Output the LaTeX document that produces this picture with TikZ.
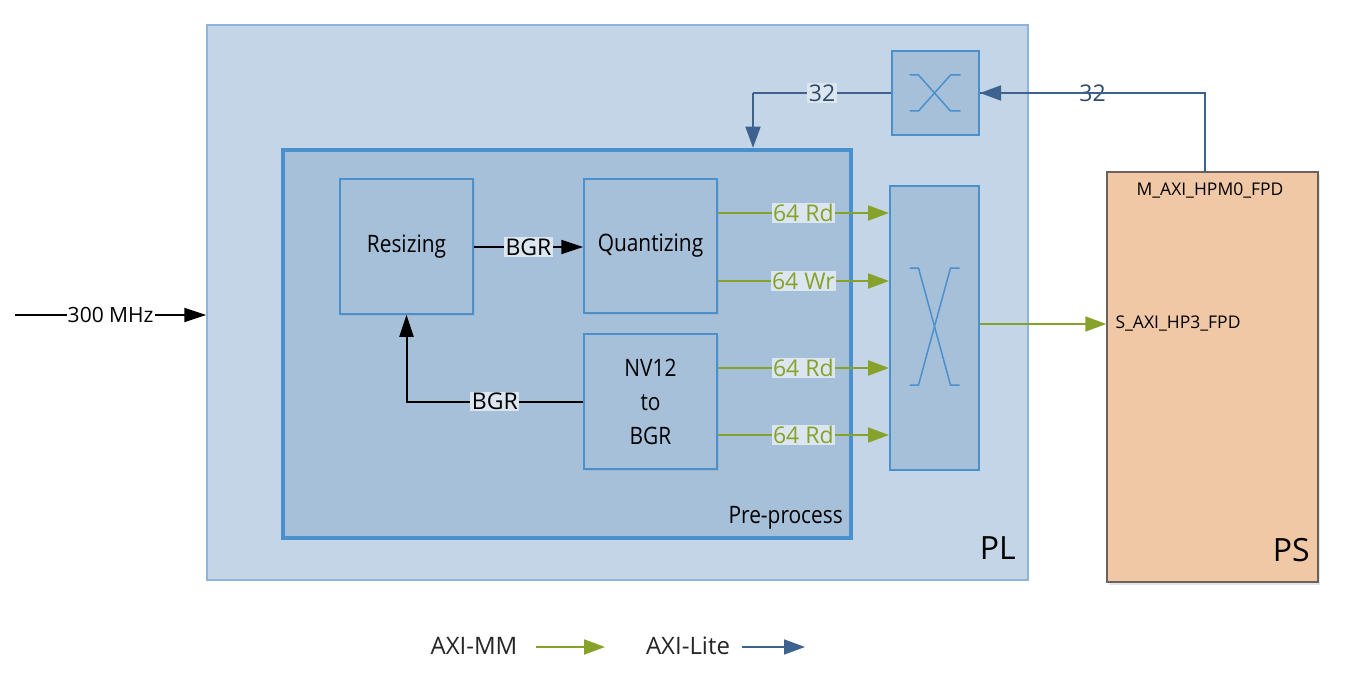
\documentclass[tikz,border=0pt]{standalone}
\usepackage{fontspec}
\setmainfont{Open Sans}
\newfontfamily\condfont{Open Sans}[FakeStretch=0.87]
\usetikzlibrary{arrows.meta,shadows}
\definecolor{plfill}{HTML}{C4D5E7}
\definecolor{plborder}{HTML}{8FB3D9}
\definecolor{prefill}{HTML}{A6C0DA}
\definecolor{preborder}{HTML}{4A90CD}
\definecolor{mmgreen}{HTML}{86A22A}
\definecolor{liteblue}{HTML}{3D6290}
\definecolor{litetext}{HTML}{2F4A6B}
\definecolor{psfill}{HTML}{F1C8A6}
\definecolor{psborder}{HTML}{6B625C}
\definecolor{labelbg}{HTML}{DCE6F0}
\begin{document}
\begin{tikzpicture}[x=1pt,y=-1pt,
  txt/.style={font=\condfont\fontsize{24}{34}\selectfont},
  labtxt/.style={font=\fontsize{23}{27}\selectfont},
  smalltxt/.style={font=\fontsize{17.5}{20}\selectfont},
  bigtxt/.style={font=\fontsize{32}{36}\selectfont},
  blockbox/.style={draw=preborder,line width=1.5pt,fill=prefill,inner sep=0pt,
     drop shadow={opacity=0.15,shadow xshift=2pt,shadow yshift=-2pt}},
  xbarbox/.style={draw=preborder,line width=2pt,fill=prefill,inner sep=0pt},
  xline/.style={draw=preborder,line width=1.5pt},
  lab/.style={labtxt,fill=labelbg,inner sep=1.5pt},
  blk/.style={draw=black,line width=2pt,-{Triangle[length=22pt,width=14pt]}},
  mm/.style={draw=mmgreen,line width=2pt,-{Triangle[length=21pt,width=15pt]}},
  lite/.style={draw=liteblue,line width=1.6pt},
  litearrow/.style={lite,-{Triangle[length=21pt,width=15pt]}},
  gl/.style={lab,text=mmgreen},
  bl/.style={lab,text=litetext}
]
\useasboundingbox (0,0) rectangle (1347,674);
\fill[white] (0,0) rectangle (1347,674);

% PL
\node[draw=plborder,line width=1.5pt,fill=plfill,minimum width=821pt,minimum height=555pt,inner sep=0pt] (pl) at (617.5,302.5) {};
\node[bigtxt,anchor=base east,inner sep=0pt] (pllab) at (1016,559) {PL};

% PS
\node[draw=psborder,line width=1.5pt,fill=psfill,minimum width=211pt,minimum height=410pt,inner sep=0pt,
  drop shadow={opacity=0.2,shadow xshift=2pt,shadow yshift=-3pt}] (ps) at (1212.5,377) {};
\node[bigtxt,anchor=base east,inner sep=0pt] (pslab) at (1310,561) {PS};
\node[smalltxt] (mport) at (1210,191) {M\_AXI\_HPM0\_FPD};
\node[smalltxt,anchor=west] (sport) at (1112,324) {S\_AXI\_HP3\_FPD};

% Pre-process
\node[draw=preborder,line width=4.5pt,fill=prefill,minimum width=568pt,minimum height=388pt,inner sep=0pt,
  drop shadow={opacity=0.15,shadow xshift=2pt,shadow yshift=-2pt}] (pre) at (567,344) {};
\node[txt,anchor=base east,inner sep=0pt] (prelab) at (843,523) {Pre-process};

% Inner blocks
\node[blockbox,txt,minimum width=133pt,minimum height=135pt] (res) at (406.5,246.5) {Resizing};
\node[blockbox,txt,minimum width=133pt,minimum height=134pt] (quant) at (650.5,246) {Quantizing};
\node[blockbox,txt,minimum width=133pt,minimum height=135pt,align=center] (nv) at (650.5,401.5) {NV12\\to\\BGR};

% Crossbars
\node[xbarbox,minimum width=87pt,minimum height=84pt] (xbt) at (935.5,93) {};
\node[xbarbox,minimum width=89pt,minimum height=284pt] (xb) at (934.5,328) {};
\draw[xline] ([shift={(-26,-18)}]xbt.center) -- ([shift={(-17,-18)}]xbt.center) -- ([shift={(15,18)}]xbt.center) -- ([shift={(25,18)}]xbt.center);
\draw[xline] ([shift={(25,-18)}]xbt.center) -- ([shift={(15,-18)}]xbt.center) -- ([shift={(-17,18)}]xbt.center) -- ([shift={(-26,18)}]xbt.center);
\draw[xline] ([shift={(-25,-60)}]xb.center) -- ([shift={(-16,-60)}]xb.center) -- ([shift={(16,57)}]xb.center) -- ([shift={(25,57)}]xb.center);
\draw[xline] ([shift={(25,-60)}]xb.center) -- ([shift={(16,-60)}]xb.center) -- ([shift={(-16,57)}]xb.center) -- ([shift={(-25,57)}]xb.center);

% Input clock
\coordinate (clkin) at (15,315);
\draw[blk] (clkin) -- node[font=\fontsize{21}{25}\selectfont,fill=white,inner sep=1pt] (clklab) {300 MHz} (clkin -| pl.west);

% BGR connections
\draw[blk] (res.east |- 0,247) -- node[lab] (bgr1) {BGR} (quant.west |- 0,247);
\draw[blk] (nv.west) -- node[lab] (bgr2) {BGR} (nv.west -| res.south) -- (res.south);

% AXI-MM links
\draw[mm] (quant.east |- 0,213) -- node[gl] (l1) {64 Rd} (xb.west |- 0,213);
\draw[mm] (quant.east |- 0,281) -- node[gl] (l2) {64 Wr} (xb.west |- 0,281);
\draw[mm] (nv.east |- 0,368) -- node[gl] (l3) {64 Rd} (xb.west |- 0,368);
\draw[mm] (nv.east |- 0,435) -- node[gl] (l4) {64 Rd} (xb.west |- 0,435);
\draw[mm] (xb.east |- 0,324) -- (ps.west |- 0,324);

% AXI-Lite links
\coordinate (pstap) at (1205,172);
\coordinate (pscorner) at (1205,93);
\draw[lite] (pstap) -- (pscorner) -- node[bl,fill=white] (n32a) {32} (xbt.east);
\draw[litearrow] (pscorner) -- (xbt.east);
\coordinate (precorner) at (753,93);
\draw[lite] (xbt.west) -- node[bl] (n32b) {32} (precorner);
\draw[litearrow] (precorner) -- (precorner |- pre.north);

% Legend
\node[font=\fontsize{24}{28}\selectfont,text=black!85] (lmm) at (474,646) {AXI-MM};
\node[font=\fontsize{24}{28}\selectfont,text=black!85] (llite) at (688,646) {AXI-Lite};
\coordinate (lmm1) at (536,647);
\coordinate (lmm2) at (605,647);
\coordinate (llite1) at (742,647);
\coordinate (llite2) at (805,647);
\draw[mm] (lmm1) -- (lmm2);
\draw[litearrow] (llite1) -- (llite2);
\end{tikzpicture}
\end{document}
